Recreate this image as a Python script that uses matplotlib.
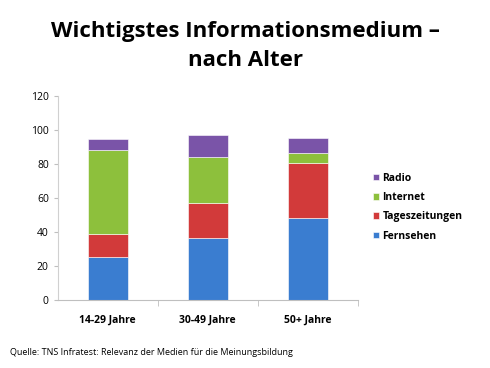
import numpy as np
import matplotlib.pyplot as plt

plt.rcParams['font.family'] = ['Open Sans', 'DejaVu Sans']

# Daten
gruppen = ["14-29 Jahre", "30-49 Jahre", "50+ Jahre"]
fernsehen = [25.5, 36.5, 48]
tageszeitungen = [13.5, 20.5, 32.5]
internet = [49, 27, 6]
radio = [6.5, 13, 9]

serien = [("Fernsehen", fernsehen, "#3a7dd0"),
          ("Tageszeitungen", tageszeitungen, "#d23a3a"),
          ("Internet", internet, "#8dc03c"),
          ("Radio", radio, "#7a54a8")]

fig = plt.figure(figsize=(4.9, 3.68), dpi=100)
ax = fig.add_axes([0.118, 0.185, 0.612, 0.554])

x = np.arange(len(gruppen))
unten = np.zeros(len(gruppen))
handles = []
for name, werte, farbe in serien:
    h = ax.bar(x, werte, 0.4, bottom=unten, color=farbe, label=name,
               edgecolor="white", linewidth=0.4)
    handles.append(h)
    unten += np.array(werte)

ax.set_xlim(-0.5, 2.5)
ax.set_ylim(0, 120)
ax.set_yticks(range(0, 121, 20))
ax.set_xticks(x)
ax.set_xticklabels(gruppen, fontsize=7.5, fontweight="bold")
ax.tick_params(axis="x", length=0, pad=11)
ax.tick_params(axis="y", labelsize=7.5, length=3, color="#bfbfbf")
ax.set_xticks([0.5, 1.5, 2.5], minor=True)
ax.tick_params(axis="x", which="minor", length=4, color="#bfbfbf", direction="out")
for s in ["top", "right"]:
    ax.spines[s].set_visible(False)
ax.spines["left"].set_color("#d0d0d0")
ax.spines["bottom"].set_color("#bfbfbf")

ax.legend(handles[::-1], [s[0] for s in serien][::-1], loc="center left",
          bbox_to_anchor=(1.02, 0.455), frameon=False,
          prop={"size": 7.5, "weight": "bold"}, handlelength=0.6, handleheight=0.6,
          labelspacing=0.8, handletextpad=0.3)

fig.text(0.5, 0.875, "Wichtigstes Informationsmedium –\nnach Alter", ha="center", va="center",
         fontsize=16, fontweight="bold", linespacing=1.45)
fig.text(0.02, 0.043, "Quelle: TNS Infratest: Relevanz der Medien für die Meinungsbildung",
         fontsize=6.5, va="center")

fig.savefig("out.png", dpi=100)
